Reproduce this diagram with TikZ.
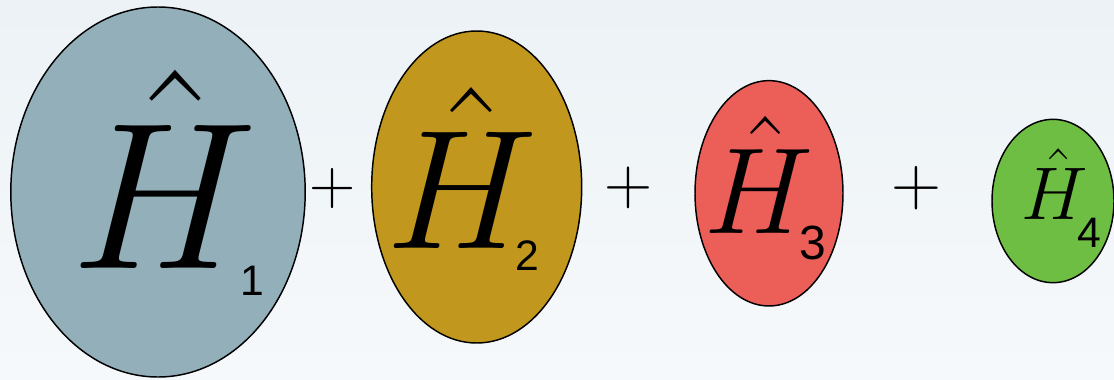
\RequirePackage{fix-cm}
\documentclass[tikz,border=0pt]{standalone}
\usepackage{fontspec}
\newfontfamily\subfont{Liberation Sans}
\usetikzlibrary{shapes.geometric}
\definecolor{bgtop}{HTML}{ECF2F6}
\definecolor{bgbot}{HTML}{F6F9FB}
\definecolor{cone}{HTML}{93B0BA}
\definecolor{ctwo}{HTML}{C2971E}
\definecolor{cthree}{HTML}{EC5E58}
\definecolor{cfour}{HTML}{6EBE44}
\begin{document}
\begin{tikzpicture}[x=0.75pt,y=-0.75pt,
  blob/.style={ellipse,draw=black,line width=1.1pt,inner sep=0pt},
  hlab/.style={inner sep=0pt,anchor=base},
  sublab/.style={inner sep=0pt,anchor=base,font=\subfont},
  plussign/.style={inner sep=0pt,anchor=center}]
\shade[top color=bgtop,bottom color=bgbot] (0,0) rectangle (1114,379);
\useasboundingbox (0,0) rectangle (1114,379);
% ellipses
\node[blob,fill=cone,minimum width=220.8pt,minimum height=277.5pt] (e1) at (158,192) {};
\node[blob,fill=ctwo,minimum width=157.5pt,minimum height=234pt] (e2) at (476.7,187) {};
\node[blob,fill=cthree,minimum width=111pt,minimum height=169pt] (e3) at (769,193.3) {};
\node[blob,fill=cfour,minimum width=91.5pt,minimum height=122.5pt] (e4) at (1053,201) {};
% H hats
\node[hlab,font=\fontsize{157}{160}\selectfont] (h1) at (164,268) {$\hat{H}$};
\node[hlab,font=\fontsize{127.5}{130}\selectfont] (h2) at (462,248) {$\hat{H}$};
\node[hlab,font=\fontsize{92}{95}\selectfont] (h3) at (759,233) {$\hat{H}$};
\node[hlab,font=\fontsize{56}{58}\selectfont] (h4) at (1055,219) {$\hat{H}$};
% subscripts
\node[sublab,font=\subfont\fontsize{32}{34}\selectfont] (s1) at (252,295) {1};
\node[sublab,font=\subfont\fontsize{32}{34}\selectfont] (s2) at (527,270) {2};
\node[sublab,font=\subfont\fontsize{36}{38}\selectfont] (s3) at (813,259) {3};
\node[sublab,font=\subfont\fontsize{32}{34}\selectfont] (s4) at (1089,247) {4};
% plus signs
\node[plussign,font=\fontsize{48}{50}\selectfont] (p1) at (333,188) {$+$};
\node[plussign,font=\fontsize{50}{52}\selectfont] (p2) at (628.5,187.5) {$+$};
\node[plussign,font=\fontsize{52}{54}\selectfont] (p3) at (916.5,187.7) {$+$};
\end{tikzpicture}
\end{document}
